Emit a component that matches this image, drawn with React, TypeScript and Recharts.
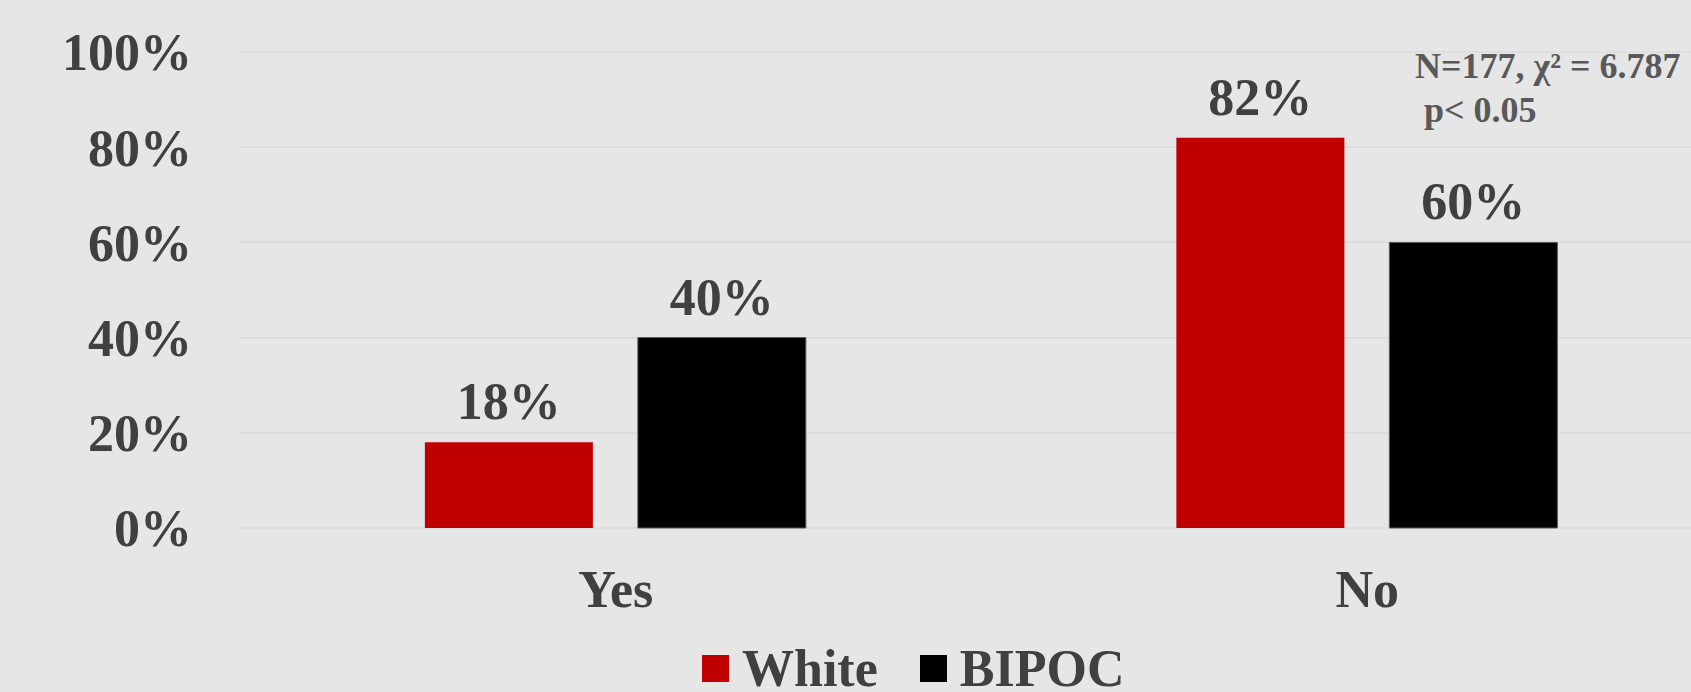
import React from 'react';
import { BarChart, Bar, XAxis, YAxis, CartesianGrid, Legend, LabelList } from 'recharts';

const categories = ['Yes', 'No'];
const seriesNames = ['White', 'BIPOC'];
const whiteValues = [18, 82];
const bipocValues = [40, 60];
const yTicks = [0, 20, 40, 60, 80, 100];

const FONT = '"Liberation Serif", "Times New Roman", serif';
const TEXT = '#404040';

const data = categories.map((name, i) => ({
  name,
  White: whiteValues[i],
  BIPOC: bipocValues[i],
}));

const LegendContent = (props: any) => {
  const payload = [...(props.payload || [])].sort(
    (a: any, b: any) => seriesNames.indexOf(a.value) - seriesNames.indexOf(b.value)
  );
  return (
    <div
      style={{
        display: 'flex',
        alignItems: 'center',
        height: 60,
        fontFamily: FONT,
        fontSize: 52,
        fontWeight: 'bold',
        color: TEXT,
        whiteSpace: 'nowrap',
      }}
    >
      {payload.map((entry: any, i: number) => (
        <div key={entry.value} style={{ display: 'flex', alignItems: 'center', marginRight: i === 0 ? 42 : 0 }}>
          <span style={{ width: 27, height: 27, background: entry.color, marginRight: 13, display: 'inline-block' }} />
          <span>{entry.value}</span>
        </div>
      ))}
    </div>
  );
};

const App: React.FC = () => {
  return (
    <div
      style={{
        position: 'absolute',
        left: 0,
        top: 0,
        width: 1691,
        height: 692,
        overflow: 'hidden',
        background: '#e6e6e6',
      }}
    >
      <BarChart
        width={1743}
        height={692}
        data={data}
        margin={{ top: 52, right: 0, bottom: 34, left: 0 }}
        barCategoryGap="24.6%"
        barGap={45}
      >
        <CartesianGrid vertical={false} stroke="#d8d8d8" strokeWidth={1.2} />
        <XAxis
          dataKey="name"
          axisLine={false}
          tickLine={false}
          tickSize={0}
          tickMargin={42}
          height={70}
          tick={{ fill: TEXT, fontSize: 52, fontWeight: 'bold', fontFamily: FONT }}
        />
        <YAxis
          domain={[0, 100]}
          ticks={yTicks}
          width={240}
          axisLine={false}
          tickLine={false}
          tickSize={0}
          tickMargin={48}
          tickFormatter={(v: number) => `${v}%`}
          tick={{ fill: TEXT, fontSize: 52, fontWeight: 'bold', fontFamily: FONT }}
        />
        <Legend
          verticalAlign="bottom"
          content={<LegendContent />}
          wrapperStyle={{ left: 702, top: 638, width: 'auto' }}
        />
        <Bar dataKey="White" fill="#c00000" isAnimationActive={false}>
          <LabelList
            dataKey="White"
            position="top"
            offset={23}
            formatter={(v: any) => `${v}%`}
            style={{ fill: TEXT, fontSize: 52, fontWeight: 'bold', fontFamily: FONT }}
          />
        </Bar>
        <Bar dataKey="BIPOC" fill="#000000" stroke="#5a5a5a" strokeWidth={1} isAnimationActive={false}>
          <LabelList
            dataKey="BIPOC"
            position="top"
            offset={23}
            formatter={(v: any) => `${v}%`}
            style={{ fill: TEXT, stroke: 'none', fontSize: 52, fontWeight: 'bold', fontFamily: FONT }}
          />
        </Bar>
      </BarChart>
      <div
        style={{
          position: 'absolute',
          left: 1415,
          top: 44,
          fontFamily: FONT,
          fontSize: 36,
          lineHeight: '44px',
          fontWeight: 'bold',
          color: '#595959',
          whiteSpace: 'pre',
        }}
      >
        {'N=177, χ² = 6.787\n p< 0.05'}
      </div>
    </div>
  );
};

export default App;
